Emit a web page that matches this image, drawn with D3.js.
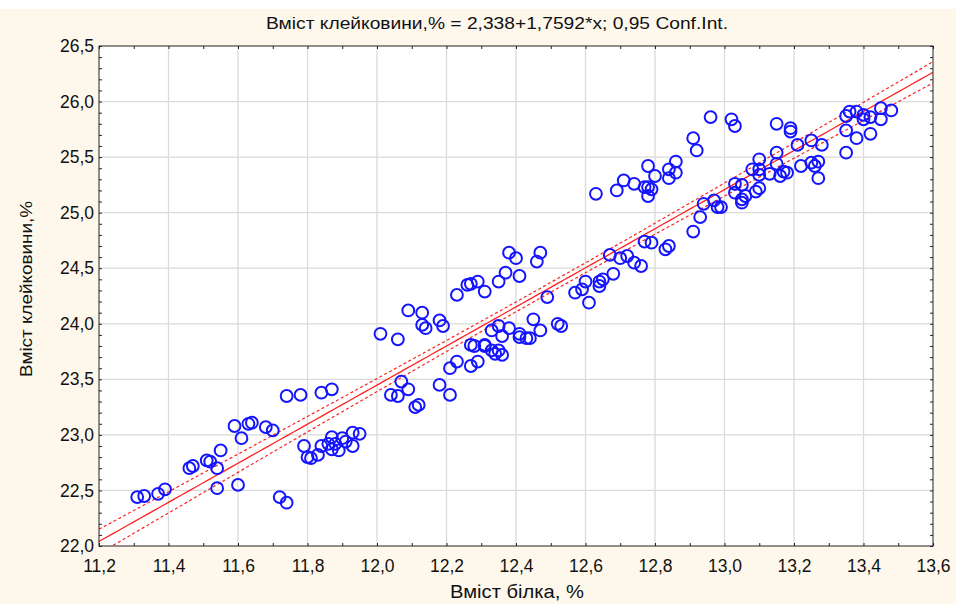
<!DOCTYPE html>
<html><head><meta charset="utf-8">
<script src="https://cdn.jsdelivr.net/npm/d3@7"></script>
<style>body{margin:0;background:#fff;}svg{display:block}</style>
</head><body><svg id="c" width="956" height="604"></svg>
<script>
const xValues = [
11.31,11.33,11.37,11.39,11.46,11.47,11.51,11.52,11.55,11.54,
11.54,11.60,11.59,11.61,11.63,11.64,11.68,11.70,11.72,11.74,
11.74,11.78,11.84,11.87,11.79,11.80,11.81,11.83,11.84,11.86,
11.87,11.87,11.88,11.89,11.90,11.91,11.93,11.93,11.95,
12.01,12.06,12.09,12.13,12.13,12.14,12.18,12.19,12.23,12.26,12.27,
12.29,12.31,12.35,12.37,12.41,12.38,12.40,12.46,12.47,12.49,
12.45,12.47,12.52,12.53,12.57,12.59,12.60,12.61,12.64,12.64,
12.65,12.68,12.67,12.70,12.72,12.74,12.76,12.77,12.79,12.83,12.84,
12.07,12.09,12.04,12.06,12.12,12.11,12.18,12.21,12.21,
12.23,12.27,12.29,12.27,12.28,12.31,12.31,12.33,12.35,12.34,
12.36,12.35,12.33,12.36,12.38,12.41,12.41,12.43,12.44,
12.63,12.69,12.71,12.74,12.77,12.78,12.79,12.78,12.78,12.80,12.84,
12.84,12.86,12.86,12.91,12.92,12.96,13.02,13.03,13.15,13.19,13.19,
12.91,12.93,12.94,12.97,12.98,12.99,13.03,13.05,13.03,13.06,13.05,13.05,
13.09,13.10,13.08,13.10,13.10,13.10,13.13,13.15,13.15,13.16,13.17,13.18,
13.21,13.22,13.25,13.25,13.26,13.27,13.28,13.27,
13.35,13.36,13.38,13.40,13.40,13.42,13.45,13.45,13.48,13.35,13.38,13.42,13.35];
const yValues = [
22.44,22.45,22.47,22.51,22.70,22.72,22.77,22.76,22.86,22.70,
22.52,22.55,23.08,22.97,23.10,23.11,23.07,23.04,22.44,22.39,
23.35,23.36,23.38,23.41,22.90,22.80,22.79,22.82,22.90,22.92,
22.98,22.87,22.92,22.86,22.97,22.94,23.02,22.90,23.01,
23.91,23.86,24.12,24.10,23.99,23.96,24.03,23.98,24.26,24.35,24.36,
24.38,24.29,24.38,24.46,24.43,24.64,24.59,24.56,24.64,24.24,
24.04,23.94,24.00,23.98,24.28,24.31,24.38,24.19,24.38,24.34,
24.40,24.45,24.62,24.59,24.61,24.55,24.52,24.74,24.73,24.67,24.70,
23.48,23.41,23.36,23.35,23.27,23.25,23.45,23.36,23.60,
23.66,23.62,23.66,23.81,23.80,23.81,23.80,23.76,23.76,23.73,
23.72,23.98,23.94,23.89,23.96,23.91,23.88,23.87,23.87,
25.17,25.20,25.29,25.26,25.23,25.23,25.21,25.15,25.42,25.33,25.39,
25.31,25.46,25.36,25.67,25.56,25.86,25.84,25.78,25.80,25.76,25.73,
24.83,24.96,25.08,25.11,25.05,25.05,25.26,25.25,25.18,25.15,25.09,25.12,
25.19,25.22,25.39,25.39,25.34,25.48,25.35,25.54,25.44,25.33,25.37,25.36,
25.61,25.42,25.65,25.45,25.42,25.46,25.61,25.31,
25.87,25.91,25.91,25.88,25.84,25.86,25.94,25.84,25.92,25.74,25.67,25.71,25.54];
const xTickValues = [11.2,11.4,11.6,11.8,12.0,12.2,12.4,12.6,12.8,13.0,13.2,13.4,13.6];
const yTickValues = [22.0,22.5,23.0,23.5,24.0,24.5,25.0,25.5,26.0,26.5];
const intercept = 2.338, slope = 1.7592, confLevel = 0.95, tCrit = 1.974;
const titleText = "Вміст клейковини,% = 2,338+1,7592*x; 0,95 Conf.Int.";
const xLabelText = "Вміст білка, %";
const yLabelText = "Вміст клейковини,%";

const svg = d3.select("#c");
const W = 956, H = 604;
const L = 99, R = 933, T = 46, B = 546;
svg.append("rect").attr("width", W).attr("height", H).attr("fill", "#fef8ec");
svg.append("rect").attr("width", W).attr("height", 9).attr("fill", "#ffffff");

const x = d3.scaleLinear().domain([11.2, 13.6]).range([L, R]);
const y = d3.scaleLinear().domain([22.0, 26.5]).range([B, T]);
const comma = v => d3.format(".1f")(v).replace(".", ",");

svg.append("rect").attr("x", L).attr("y", T).attr("width", R - L).attr("height", B - T).attr("fill", "#fff");

// grid
const grid = svg.append("g").attr("stroke", "#dadada").attr("stroke-width", 1.3);
grid.selectAll(".gx").data(xTickValues.slice(1, -1)).join("line")
  .attr("x1", d => x(d)).attr("x2", d => x(d)).attr("y1", T).attr("y2", B);
grid.selectAll(".gy").data(yTickValues.slice(1, -1)).join("line")
  .attr("y1", d => y(d)).attr("y2", d => y(d)).attr("x1", L).attr("x2", R);

// minor ticks (inward) on all sides
const xMinor = d3.range(0, 25).map(i => +(11.2 + i * 0.1).toFixed(1));
const yMinor = d3.range(0, 46).map(i => +(22.0 + i * 0.1).toFixed(1));
const tickStyle = g => { g.select(".domain").remove(); g.selectAll("line").attr("stroke", "#222"); g.selectAll("text").remove(); };
svg.append("g").attr("transform", `translate(0,${B})`).call(d3.axisBottom(x).tickValues(xMinor).tickSize(-3)).call(tickStyle);
svg.append("g").attr("transform", `translate(0,${T})`).call(d3.axisTop(x).tickValues(xMinor).tickSize(-3)).call(tickStyle);
svg.append("g").attr("transform", `translate(${L},0)`).call(d3.axisLeft(y).tickValues(yMinor).tickSize(-3)).call(tickStyle);
svg.append("g").attr("transform", `translate(${R},0)`).call(d3.axisRight(y).tickValues(yMinor).tickSize(-3)).call(tickStyle);

// labels
const labelFont = "'Liberation Sans', Arial, sans-serif";
svg.append("g").attr("transform", `translate(0,${B})`)
  .call(d3.axisBottom(x).tickValues(xTickValues).tickSize(0).tickPadding(14).tickFormat(comma))
  .call(g => g.select(".domain").remove())
  .call(g => g.selectAll("text").attr("font-family", labelFont).attr("font-size", 17.5).attr("fill", "#111"));
svg.append("g").attr("transform", `translate(${L},0)`)
  .call(d3.axisLeft(y).tickValues(yTickValues).tickSize(0).tickPadding(5).tickFormat(comma))
  .call(g => g.select(".domain").remove())
  .call(g => g.selectAll("text").attr("font-family", labelFont).attr("font-size", 17.5).attr("fill", "#111"));

// regression + confidence band
const n = Math.min(xValues.length, yValues.length);
const pts = d3.range(n).map(i => [xValues[i], yValues[i]]);
const xbar = d3.mean(pts, d => d[0]);
const sxx = d3.sum(pts, d => (d[0] - xbar) ** 2);
const sse = d3.sum(pts, d => (d[1] - (intercept + slope * d[0])) ** 2);
const s = Math.sqrt(sse / (n - 2));
const half = xv => tCrit * s * Math.sqrt(1 / n + (xv - xbar) ** 2 / sxx);
const xs = d3.range(0, 121).map(i => 11.2 + i * 0.02);
svg.append("clipPath").attr("id", "pc").append("rect").attr("x", L).attr("y", T).attr("width", R - L).attr("height", B - T);
const lineG = svg.append("g").attr("clip-path", "url(#pc)");
const ln = d3.line().x(d => x(d[0])).y(d => y(d[1]));
lineG.append("path").attr("d", ln(xs.map(v => [v, intercept + slope * v + half(v)])))
  .attr("fill", "none").attr("stroke", "#ff2020").attr("stroke-width", 1.2).attr("stroke-dasharray", "3,2.5");
lineG.append("path").attr("d", ln(xs.map(v => [v, intercept + slope * v - half(v)])))
  .attr("fill", "none").attr("stroke", "#ff2020").attr("stroke-width", 1.2).attr("stroke-dasharray", "3,2.5");
lineG.append("path").attr("d", ln(xs.map(v => [v, intercept + slope * v])))
  .attr("fill", "none").attr("stroke", "#ff2020").attr("stroke-width", 1.3);

// points
svg.append("g").selectAll("circle").data(pts).join("circle")
  .attr("cx", d => x(d[0])).attr("cy", d => y(d[1])).attr("r", 5.9)
  .attr("fill", "none").attr("stroke", "#1414ff").attr("stroke-width", 2);

// frame
svg.append("rect").attr("x", L).attr("y", T).attr("width", R - L).attr("height", B - T)
  .attr("fill", "none").attr("stroke", "#222").attr("stroke-width", 1);

// titles
svg.append("text").attr("x", 497).attr("y", 29).attr("text-anchor", "middle")
  .attr("font-family", labelFont).attr("font-size", 16.5).attr("fill", "#111")
  .attr("textLength", 462).attr("lengthAdjust", "spacingAndGlyphs").text(titleText);
svg.append("text").attr("x", 517).attr("y", 598).attr("text-anchor", "middle")
  .attr("font-family", labelFont).attr("font-size", 18).attr("fill", "#111")
  .attr("textLength", 134).attr("lengthAdjust", "spacingAndGlyphs").text(xLabelText);
svg.append("text").attr("transform", "translate(32,289) rotate(-90)").attr("text-anchor", "middle")
  .attr("font-family", labelFont).attr("font-size", 16.5).attr("fill", "#111")
  .attr("textLength", 176).attr("lengthAdjust", "spacingAndGlyphs").text(yLabelText);
</script></body></html>
